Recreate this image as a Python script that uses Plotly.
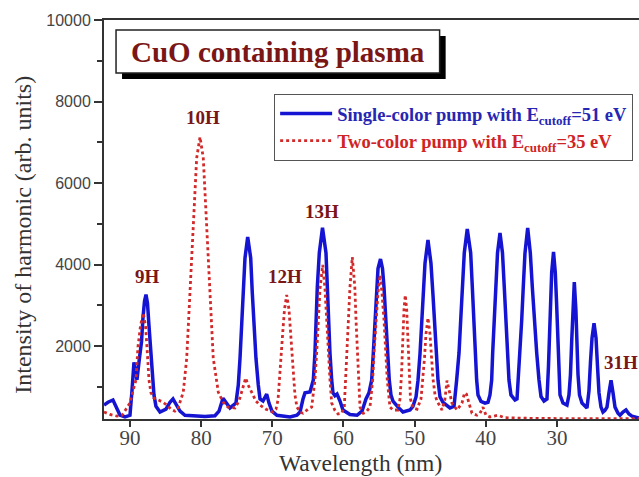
import plotly.graph_objects as go

# ---- data ----
blue_wl = [93.65, 93.09, 92.39, 91.83, 91.41, 90.70, 90.00, 89.72, 89.44, 89.23, 89.02, 88.67, 88.38, 88.17,
           87.96, 87.75, 87.54, 87.33, 87.12, 86.91, 86.63, 86.35, 85.78, 84.94, 84.38, 83.96, 83.54, 82.97, 82.27,
           80.87, 79.46, 78.06, 77.49, 76.93, 76.51, 75.95, 75.11, 74.78, 74.54, 74.31, 74.08, 73.84, 73.46,
           73.04, 72.82, 72.58, 72.30, 71.97, 71.73, 71.31, 70.79, 70.47, 70.05, 69.35,
           68.50, 67.52, 66.54, 66.11, 65.69, 65.41, 64.71, 64.24, 64.01, 63.87, 63.68, 63.40, 62.95, 62.46,
           62.28, 62.08, 61.90, 61.66, 61.48, 61.20, 60.91, 60.49, 60.07,
           59.09, 58.10, 57.40, 56.84, 56.42, 56.04, 55.81, 55.58, 55.34, 55.15, 54.80, 54.52, 54.31, 54.03,
           53.85, 53.57, 53.33, 53.05, 52.34, 51.64, 50.66, 50.24,
           49.81, 49.53, 49.25, 49.04, 48.83, 48.55, 48.13, 47.71, 47.43, 47.21, 47.00, 46.72, 46.44, 46.02,
           45.04, 44.47,
           44.10, 43.77, 43.53, 43.31, 43.03, 42.61, 42.13, 41.90, 41.71, 41.52, 41.29, 41.10, 40.68, 40.12, 39.70,
           39.42, 39.18, 39.04, 38.81, 38.62, 38.36, 38.01, 37.66, 37.41, 37.21, 36.99, 36.75, 36.47, 35.90,
           35.62, 35.44, 35.20, 34.96, 34.74, 34.50, 34.12, 33.75, 33.47, 33.19, 32.85, 32.53, 32.25, 31.83, 31.41,
           31.20, 31.06, 30.92, 30.75, 30.49, 30.24, 30.07, 29.93, 29.79, 29.58, 29.16, 28.60, 28.32, 28.11,
           27.94, 27.80, 27.57, 27.35, 27.21, 27.05, 26.84, 26.49, 25.79,
           25.51, 25.30, 25.08, 24.80, 24.52, 24.31, 24.10, 23.82, 23.54, 23.26, 22.98, 22.70, 22.41, 22.13,
           21.85, 21.43, 21.15, 20.73, 20.31, 19.89, 19.46, 18.48]
blue_int = [550, 620, 675, 450, 306, 260, 300, 900, 1600, 1400, 1170, 1700, 2100, 2700,
            3100, 3260, 3050, 2500, 1900, 1300, 800, 520, 380, 450, 620, 700, 560, 400, 300,
            280, 270, 290, 400, 720, 600, 480, 600, 1043, 1700, 2515, 3325, 4160, 4675,
            4160, 3325, 2515, 1700, 1043, 700, 650, 820, 600, 400, 300,
            280, 260, 300, 380, 700, 850, 870, 1166, 1828, 2638, 3448, 4282, 4900, 4282,
            3448, 2638, 1828, 1166, 850, 780, 820, 650, 430,
            320, 300, 400, 700, 850, 1166, 1828, 2638, 3448, 3900, 4135, 3900, 3448, 2638,
            1828, 1166, 800, 650, 500, 380, 430, 520,
            750, 1160, 1810, 2530, 3260, 4030, 4600, 4030, 3260, 2530, 1810, 1160, 750, 620,
            480, 520,
            1166, 1828, 2638, 3448, 4282, 4870, 4282, 3448, 2638, 1828, 1166, 800, 640, 600, 620,
            800, 1166, 1828, 2638, 3448, 4282, 4773, 4282, 3448, 2638, 1828, 1166, 800, 675,
            700, 1166, 1828, 2638, 3448, 4282, 4896, 4282, 3448, 2638, 1828, 1166, 760, 650, 700,
            1500, 2300, 3100, 3800, 4307, 3800, 3100, 2300, 1500, 800, 600, 550, 800, 1300,
            2100, 2900, 3570, 2900, 2100, 1300, 800, 600, 480,
            900, 1600, 2200, 2560, 2200, 1500, 850, 500, 380, 420, 500, 850, 1160, 850,
            500, 350, 300, 380, 430, 330, 280, 230]

red_wl = [93.65, 92.81, 91.83, 91.12, 90.56, 90.00, 89.58, 89.16, 88.88, 88.52, 88.13, 87.82, 87.61, 87.33,
          87.05, 86.63, 86.07, 85.36, 84.80, 84.24, 83.68, 83.26, 82.97,
          82.51, 82.03, 81.81, 81.57, 81.33, 81.11, 80.87, 80.63, 80.16, 79.70, 79.46, 79.22, 79.00, 78.76,
          78.52, 78.30, 77.59,
          76.93, 76.23, 75.25, 74.68, 74.12, 73.74, 73.42, 72.86, 72.30, 71.73, 70.89, 69.91,
          69.49, 69.20, 68.83, 68.54, 68.29, 67.98, 67.66, 67.42, 67.14, 66.82, 66.54, 66.11, 65.69, 64.99, 64.47,
          64.01, 63.77, 63.54, 63.30, 62.92, 62.60, 62.36, 62.14, 61.90, 61.66, 61.20, 60.77, 60.25,
          59.89, 59.72, 59.51, 59.30, 59.09, 58.76, 58.41, 58.24, 58.06, 57.89, 57.68, 57.22, 56.84,
          56.28, 55.90, 55.72, 55.43, 55.15, 54.87, 54.59, 54.31, 54.03, 53.85, 53.47, 53.05, 52.34,
          52.06, 51.85, 51.64, 51.50, 51.32, 51.12, 50.98, 50.80, 50.59, 50.24, 49.67,
          49.11, 48.83, 48.62, 48.41, 48.13, 47.85, 47.64, 47.43, 47.14, 46.86,
          46.16, 45.74, 45.46, 45.18, 44.76, 44.05, 43.35, 43.00, 42.72, 42.37, 41.95, 41.24, 40.82, 40.40,
          39.98, 39.42, 38.29, 37.31, 35.90, 33.80, 29.58, 23.96, 18.48]
red_int = [380, 320, 280, 300, 450, 600, 900, 1166, 1975, 2500, 2810, 2500, 1975, 1166,
           850, 720, 680, 620, 550, 450, 400, 450, 625,
           870, 1700, 2515, 3325, 4160, 4970, 5780, 6613, 7129, 6613, 5780, 4970, 4160, 3325,
           2515, 1700, 870,
           625, 500, 480, 650, 1000, 1215, 1050, 850, 650, 550, 450, 380,
           450, 675, 1485, 2320, 2900, 3250, 2900, 2320, 1485, 800, 500, 380, 350, 450, 500,
           1166, 1828, 2638, 3400, 3990, 3400, 2638, 1828, 1166, 600, 420, 330, 350,
           500, 1166, 1828, 2638, 3448, 4184, 3448, 2638, 1828, 1166, 500, 350, 380,
           500, 1166, 1828, 2638, 3300, 3742, 3300, 2638, 1828, 1166, 500, 430, 430,
           700, 1300, 2300, 2900, 3250, 2900, 2300, 1300, 700, 480, 450,
           700, 1200, 1700, 2300, 2690, 2300, 1700, 1200, 800, 650,
           430, 700, 1150, 900, 600, 430, 600, 850, 820, 600, 350, 300, 350, 500,
           300, 260, 300, 240, 230, 225, 220, 215, 215]

assert len(blue_wl) == len(blue_int) and len(red_wl) == len(red_int)

x_ticks = [90, 80, 70, 60, 50, 40, 30]
y_ticks = [2000, 4000, 6000, 8000, 10000]

harm_labels = ["9H", "10H", "12H", "13H", "31H"]
harm_wl = [87.5, 79.8, 68.2, 63.0, 21.0]
harm_int = [3700, 7600, 3700, 5300, 1600]

series_names = ["<b>Single-color pump with E<sub>cutoff</sub>=51 eV</b>",
                "<b>Two-color pump with E<sub>cutoff</sub>=35 eV</b>"]

BLUE = "#1414d2"
RED = "#d22a2a"
LABEL = "#7a1616"

fig = go.Figure()
fig.add_trace(go.Scatter(
    x=blue_wl, y=blue_int, mode="lines", legendgroup="a",
    name='<span style="color:#2626b4">' + series_names[0] + '</span>',
    line=dict(color=BLUE, width=3.5)))
fig.add_trace(go.Scatter(
    x=red_wl, y=red_int, mode="lines", legendgroup="b",
    name='<span style="color:#d02424">' + series_names[1] + '</span>',
    line=dict(color=RED, width=2.8, dash="dot")))

for t, xw, yv in zip(harm_labels, harm_wl, harm_int):
    fig.add_annotation(x=xw, y=yv, xref="x", yref="y", text="<b>" + t + "</b>",
                       xanchor="center", yanchor="middle",
                       showarrow=False, font=dict(family="Liberation Serif", size=19, color=LABEL))

# title box with shadow
fig.add_shape(type="rect", xref="paper", yref="paper", x0=0.0337, x1=0.6386, y0=0.8521, y1=0.9599,
              fillcolor="black", line=dict(width=0), layer="above")
fig.add_shape(type="rect", xref="paper", yref="paper", x0=0.0225, x1=0.6273, y0=0.8672, y1=0.9749,
              fillcolor="white", line=dict(color="#222", width=1.5), layer="above")
fig.add_annotation(xref="paper", yref="paper", x=0.325, y=0.919, xanchor="center", yanchor="middle",
                   text="<b>CuO containing plasma</b>",
                   showarrow=False, font=dict(family="Liberation Serif", size=29, color=LABEL))

# axis titles
fig.add_annotation(xref="paper", yref="paper", x=-0.152, y=0.461, textangle=-90,
                   xanchor="center", yanchor="middle",
                   text="Intensity of harmonic (arb. units)", showarrow=False,
                   font=dict(family="Liberation Serif", size=24, color="#333"))
fig.add_annotation(xref="paper", yref="paper", x=0.479, y=-0.11, xanchor="center", yanchor="middle",
                   text="Wavelength (nm)", showarrow=False,
                   font=dict(family="Liberation Serif", size=23.5, color="#333"))

fig.update_layout(
    width=639, height=477,
    margin=dict(l=104, r=0, t=20, b=58),
    paper_bgcolor="white", plot_bgcolor="white",
    showlegend=True,
    legend=dict(x=0.318, y=0.8145, xanchor="left", yanchor="top",
                bgcolor="white", bordercolor="#555", borderwidth=1,
                font=dict(family="Liberation Serif", size=18.5),
                tracegroupgap=0, itemwidth=52),
    xaxis=dict(range=[93.65, 18.48], tickvals=x_ticks, showgrid=False, zeroline=False,
               showline=True, linecolor="#333", linewidth=2, mirror=True,
               ticks="outside", ticklen=6, tickwidth=2, tickcolor="#333",
               ticklabelstandoff=-7,
               tickfont=dict(family="Liberation Serif", size=21, color="#444")),
    yaxis=dict(range=[209, 10000], tickvals=y_ticks, tickformat="d", showgrid=False, zeroline=False,
               showline=True, linecolor="#333", linewidth=2,
               ticks="outside", ticklen=8, tickwidth=2, tickcolor="#333",
               minor=dict(tickvals=[1000, 3000, 5000, 7000, 9000], ticks="outside", ticklen=5,
                          tickwidth=2, tickcolor="#333"),
               tickfont=dict(family="Liberation Sans", size=16, color="#444")),
)

fig.write_html("out.html", config={"displayModeBar": False},
               post_script="document.body.style.margin='0';")
